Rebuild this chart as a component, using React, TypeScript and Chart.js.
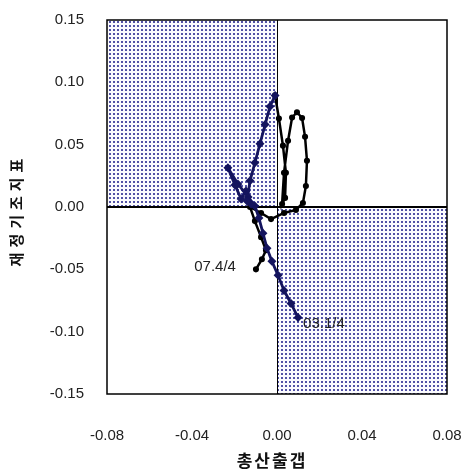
import React, { useEffect, useRef } from "react";
import { Chart, registerables } from "chart.js";
Chart.register(...registerables);

const xTicks = [-0.08, -0.04, 0, 0.04, 0.08];
const yTicks = [-0.15, -0.1, -0.05, 0, 0.05, 0.1, 0.15];

const navyX = [0.0099, 0.0066, 0.0033, 0.0005, -0.0024, -0.0047, -0.0066, -0.0085, -0.0104, -0.0136, -0.0184, -0.0231, -0.0198, -0.0169, -0.0146, -0.0122, -0.0141, -0.0127, -0.0104, -0.008, -0.0056, -0.0033, -0.0009];
const navyY = [-0.0887, -0.0774, -0.0669, -0.0548, -0.0435, -0.0331, -0.021, -0.0089, 0.0008, 0.0081, 0.0185, 0.0315, 0.0177, 0.0065, 0.0129, 0.0024, 0.0048, 0.021, 0.0355, 0.0508, 0.0661, 0.0806, 0.0895];

const blackX = [-0.0009, 0.0009, 0.0028, 0.0042, 0.0038, 0.0024, 0.0033, 0.0052, 0.0071, 0.0094, 0.0118, 0.0132, 0.0141, 0.0136, 0.0122, 0.0089, 0.0033, -0.0028, -0.0075, -0.0127, -0.0104, -0.0075, -0.0052, -0.0071, -0.0099];
const blackY = [0.0895, 0.071, 0.0492, 0.0274, 0.0073, 0.0024, 0.0274, 0.0532, 0.0718, 0.076, 0.0714, 0.0563, 0.0371, 0.0169, 0.0032, -0.0024, -0.0048, -0.0097, -0.0048, 0.0, -0.0113, -0.0242, -0.0347, -0.0419, -0.05];

const startLabel = "03.1/4";
const endLabel = "07.4/4";
const xTitle = "총산출갭";
const yTitle = "재정기조지표";

const NAVY = "#14145e";
const TICK_FONT = "15px 'Liberation Sans', Arial, sans-serif";

function makePattern(ctx: CanvasRenderingContext2D) {
  const pc = document.createElement("canvas");
  pc.width = 4;
  pc.height = 4;
  const p = pc.getContext("2d")!;
  p.fillStyle = "#fbfbff";
  p.fillRect(0, 0, 4, 4);
  p.fillStyle = "#5252a6";
  p.fillRect(1, 1, 2, 2);
  return ctx.createPattern(pc, "repeat")!;
}

const decoPlugin = {
  id: "deco",
  beforeDatasetsDraw(chart: any) {
    const { ctx, chartArea: a, scales } = chart;
    const x = scales.x, y = scales.y;
    const x0 = Math.round(x.getPixelForValue(0));
    const y0 = Math.round(y.getPixelForValue(0));
    ctx.save();
    ctx.fillStyle = makePattern(ctx);
    ctx.fillRect(a.left, a.top, x0 - a.left, y0 - a.top);
    ctx.fillRect(x0, y0, a.right - x0, a.bottom - y0);
    ctx.strokeStyle = "#000";
    ctx.lineWidth = 1.8;
    ctx.beginPath();
    ctx.moveTo(a.left, y0);
    ctx.lineTo(a.right, y0);
    ctx.stroke();
    ctx.lineWidth = 1;
    ctx.beginPath();
    ctx.moveTo(x0 + 0.5, a.top);
    ctx.lineTo(x0 + 0.5, a.bottom);
    ctx.stroke();
    ctx.lineWidth = 1.5;
    ctx.strokeRect(a.left, a.top, a.right - a.left, a.bottom - a.top);
    ctx.restore();
  },
  afterDatasetsDraw(chart: any) {
    const { ctx, scales } = chart;
    const x = scales.x, y = scales.y;
    ctx.save();
    ctx.font = TICK_FONT;
    ctx.fillStyle = "#222";
    ctx.textBaseline = "middle";
    const sx = x.getPixelForValue(navyX[0]);
    const sy = y.getPixelForValue(navyY[0]);
    ctx.textAlign = "left";
    ctx.fillText(startLabel, sx + 5, sy + 6);
    const ex = x.getPixelForValue(blackX[blackX.length - 1]);
    const ey = y.getPixelForValue(blackY[blackY.length - 1]);
    ctx.textAlign = "right";
    ctx.fillText(endLabel, ex - 20, ey - 2);
    ctx.restore();
  },
  afterDraw(chart: any) {
    const { ctx } = chart;
    ctx.save();
    ctx.fillStyle = "#111";
    ctx.font = "bold 17px 'Noto Sans CJK KR', sans-serif";
    ctx.textAlign = "center";
    ctx.textBaseline = "middle";
    (ctx as any).letterSpacing = "2px";
    ctx.fillText(xTitle, 272, 461);
    ctx.translate(16, 212);
    ctx.rotate(-Math.PI / 2);
    ctx.font = "bold 15px 'Noto Sans CJK KR', sans-serif";
    (ctx as any).letterSpacing = "5px";
    ctx.fillText(yTitle, 2, 0);
    ctx.restore();
  },
};

export default function App() {
  const ref = useRef<HTMLCanvasElement>(null);
  useEffect(() => {
    document.body.style.margin = "0";
    const canvas = ref.current!;
    const fmt = (v: any) => {
      const n = Number(v);
      return (Math.abs(n) < 1e-9 ? 0 : n).toFixed(2);
    };
    const chart = new Chart(canvas, {
      type: "scatter",
      data: {
        datasets: [
          {
            label: "navy",
            data: navyX.map((v, i) => ({ x: v, y: navyY[i] })),
            showLine: true,
            borderColor: NAVY,
            backgroundColor: NAVY,
            borderWidth: 2.8,
            pointRadius: 2.5,
            pointStyle: "rectRot",
            tension: 0,
          },
          {
            label: "black",
            data: blackX.map((v, i) => ({ x: v, y: blackY[i] })),
            showLine: true,
            borderColor: "#000",
            backgroundColor: "#000",
            borderWidth: 2.5,
            pointRadius: 1.8,
            tension: 0,
          },
        ],
      },
      options: {
        animation: false,
        responsive: false,
        devicePixelRatio: 1,
        layout: { padding: { top: 20, right: 18, left: 0, bottom: 0 } },
        plugins: { legend: { display: false }, tooltip: { enabled: false } },
        scales: {
          x: {
            type: "linear",
            min: -0.08,
            max: 0.08,
            afterBuildTicks: (s: any) => {
              s.ticks = xTicks.map((v) => ({ value: v }));
            },
            afterFit: (s: any) => {
              s.height = 78;
              s.paddingLeft = 0;
              s.paddingRight = 0;
            },
            grid: { display: false, drawTicks: false },
            border: { display: false },
            ticks: {
              callback: fmt,
              font: { family: "'Liberation Sans', Arial, sans-serif", size: 15 },
              color: "#222",
              padding: 33,
              maxRotation: 0,
            },
          },
          y: {
            type: "linear",
            min: -0.15,
            max: 0.15,
            afterBuildTicks: (s: any) => {
              s.ticks = yTicks.map((v) => ({ value: v }));
            },
            afterFit: (s: any) => {
              s.width = 107;
              s.paddingTop = 0;
              s.paddingBottom = 0;
            },
            grid: { display: false, drawTicks: false },
            border: { display: false },
            ticks: {
              callback: fmt,
              font: { family: "'Liberation Sans', Arial, sans-serif", size: 15 },
              color: "#222",
              padding: 23,
            },
          },
        },
      },
      plugins: [decoPlugin],
    });
    return () => chart.destroy();
  }, []);
  return (
    <canvas
      ref={ref}
      width={465}
      height={472}
      style={{ display: "block", width: 465, height: 472, background: "#fff" }}
    />
  );
}
